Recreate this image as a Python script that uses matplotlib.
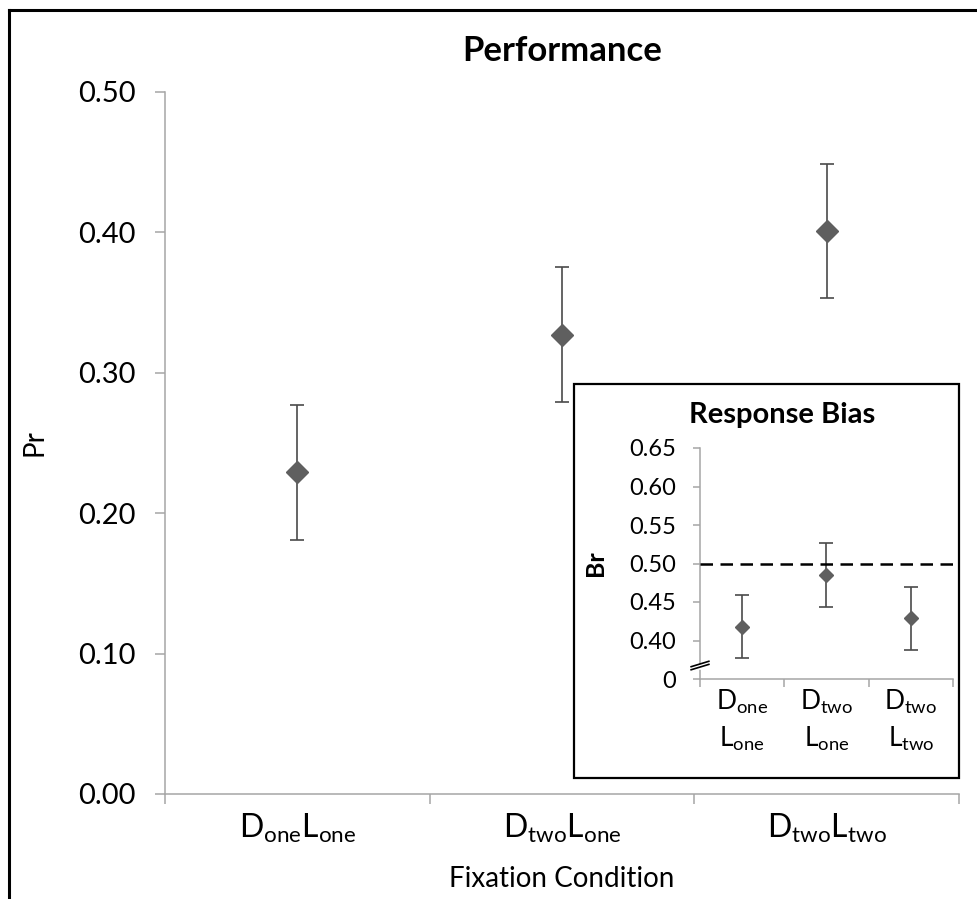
# -*- coding: utf-8 -*-
import matplotlib
matplotlib.use("Agg")
import matplotlib.pyplot as plt
from matplotlib.lines import Line2D
from matplotlib.patches import Rectangle
import matplotlib.transforms as mtransforms

plt.rcParams["font.family"] = ["Lato", "DejaVu Sans"]

# Datos: Performance (Pr)
condiciones = [r"$\mathregular{D_{one}L_{one}}$", r"$\mathregular{D_{two}L_{one}}$", r"$\mathregular{D_{two}L_{two}}$"]
pr_media = [0.229, 0.327, 0.401]
pr_error = [0.048, 0.048, 0.048]
pr_ticks = [0.0, 0.1, 0.2, 0.3, 0.4, 0.5]

# Datos: Response Bias (Br)
condiciones_br = [r"$\mathregular{D_{one}}$" + "\n" + r"$\mathregular{L_{one}}$",
                  r"$\mathregular{D_{two}}$" + "\n" + r"$\mathregular{L_{one}}$",
                  r"$\mathregular{D_{two}}$" + "\n" + r"$\mathregular{L_{two}}$"]
br_media = [0.418, 0.485, 0.429]
br_error = [0.041, 0.041, 0.041]
br_ticks = [0.35, 0.40, 0.45, 0.50, 0.55, 0.60, 0.65]
br_tick_labels = ["0", "0.40", "0.45", "0.50", "0.55", "0.60", "0.65"]
br_referencia = 0.50

gris_eje = "#a6a6a6"
gris_marca = "#5f5f5f"
gris_error = "#4a4a4a"

fig = plt.figure(figsize=(9.78, 8.99), dpi=100)

# Marco exterior (solo arriba e izquierda)
fig.add_artist(Line2D([9 / 978, 1.0], [1 - 9.5 / 899, 1 - 9.5 / 899], color="black", lw=2.2))
fig.add_artist(Line2D([9 / 978, 9 / 978], [0.0, 1 - 9.5 / 899], color="black", lw=2.2))

# Grafico principal
ax = fig.add_axes([165 / 978, 1 - 794 / 899, (959 - 165) / 978, (794 - 92) / 899])
x = [1, 2, 3]
ax.errorbar(x, pr_media, yerr=pr_error, fmt="D", color=gris_marca, ms=11,
            ecolor=gris_error, elinewidth=1.2, capsize=5, capthick=1.2, zorder=3)
ax.set_xlim(0.5, 3.5)
ax.set_ylim(0, 0.5)
ax.set_yticks(pr_ticks)
ax.set_yticklabels([f"{v:.2f}" for v in pr_ticks])
ax.set_xticks([0.5, 1.5, 2.5, 3.5])
ax.set_xticklabels([])
ax.set_xticks(x, minor=True)
ax.set_xticklabels(condiciones, minor=True)
for s in ["top", "right"]:
    ax.spines[s].set_visible(False)
for s in ["left", "bottom"]:
    ax.spines[s].set_color(gris_eje)
    ax.spines[s].set_linewidth(1.1)
ax.tick_params(axis="y", direction="out", length=7, color=gris_eje, width=1.1, labelsize=21, pad=14)
ax.tick_params(axis="x", which="major", direction="out", length=7, color=gris_eje, width=1.1)
ax.tick_params(axis="x", which="minor", length=0, labelsize=23, pad=13)
ax.set_ylabel("Pr", fontsize=20, labelpad=22)
ax.set_xlabel("Fixation Condition", fontsize=20, labelpad=15)
ax.set_title("Performance", fontsize=25, fontweight="bold", pad=22)

# Recuadro del grafico insertado
fig.add_artist(Rectangle((574 / 978, 1 - 778 / 899), (959 - 574) / 978, (778 - 384) / 899,
                         transform=fig.transFigure, facecolor="white", edgecolor="black", lw=1.6, zorder=5))

# Grafico insertado: Response Bias
ax2 = fig.add_axes([700 / 978, 1 - 679 / 899, (953 - 700) / 978, (679 - 448) / 899], zorder=6)
ax2.patch.set_alpha(0)
ax2.errorbar(x, br_media, yerr=br_error, fmt="D", color=gris_marca, ms=7,
             ecolor=gris_error, elinewidth=1.2, capsize=5, capthick=1.2, zorder=3)
trans = mtransforms.blended_transform_factory(ax2.transAxes, ax2.transData)
ax2.plot([0, (959 - 700) / (953 - 700)], [br_referencia, br_referencia], transform=trans,
         color="black", lw=1.8, dashes=(5, 3), clip_on=False, zorder=4)
ax2.set_xlim(0.5, 3.5)
ax2.set_ylim(0.35, 0.65)
ax2.set_yticks(br_ticks)
ax2.set_yticklabels(br_tick_labels)
ax2.set_xticks([0.5, 1.5, 2.5, 3.5])
ax2.set_xticklabels([])
ax2.set_xticks(x, minor=True)
ax2.set_xticklabels(condiciones_br, minor=True, linespacing=1.4)
for s in ["top", "right"]:
    ax2.spines[s].set_visible(False)
for s in ["left", "bottom"]:
    ax2.spines[s].set_color(gris_eje)
    ax2.spines[s].set_linewidth(1.1)
ax2.tick_params(axis="y", direction="out", length=5, color=gris_eje, width=1.1, labelsize=17, pad=12)
ax2.tick_params(axis="x", which="major", direction="out", length=6, color=gris_eje, width=1.1)
ax2.tick_params(axis="x", which="minor", length=0, labelsize=19, pad=6)
ax2.set_ylabel("Br", fontsize=18, fontweight="bold", labelpad=16)

# Marca de eje cortado
ax2.plot([-0.012, 0.012], [0.3655, 0.3655], transform=trans, color="white", lw=4, clip_on=False, zorder=7)
ax2.plot([-0.035, 0.035], [0.362, 0.369], transform=trans, color="black", lw=1.2, clip_on=False, zorder=8)
ax2.plot([-0.035, 0.035], [0.366, 0.373], transform=trans, color="black", lw=1.2, clip_on=False, zorder=8)

fig.text(782 / 978, 1 - 415 / 899, "Response Bias", ha="center", va="center",
         fontsize=21, fontweight="bold", zorder=7)

plt.savefig("out.png", dpi=100)
